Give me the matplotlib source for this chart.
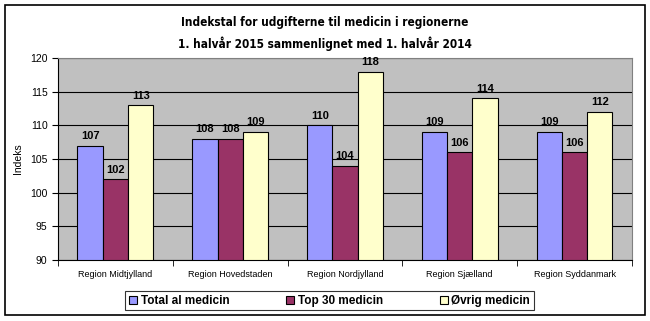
import numpy as np
import matplotlib.pyplot as plt
from matplotlib.patches import Rectangle

regions = ["Region Midtjylland", "Region Hovedstaden", "Region Nordjylland",
           "Region Sjælland", "Region Syddanmark"]
total = [107, 108, 110, 109, 109]
top30 = [102, 108, 104, 106, 106]
oevrig = [113, 109, 118, 114, 112]
series_names = ["Total al medicin", "Top 30 medicin", "Øvrig medicin"]
colors = ["#9999FF", "#993366", "#FFFFCC"]

plt.rcParams['font.family'] = ['Liberation Sans', 'DejaVu Sans']

fig = plt.figure(figsize=(6.5, 3.21), dpi=100)
fig.patches.append(Rectangle((0.008, 0.02), 0.984, 0.965, transform=fig.transFigure,
                             fill=False, edgecolor='black', linewidth=1.2))
ax = fig.add_axes([0.0892, 0.19, 0.883, 0.629])
ax.set_facecolor("#C0C0C0")

x = np.arange(len(regions))
w = 0.22
for i, (vals, name, c) in enumerate(zip([total, top30, oevrig], series_names, colors)):
    ax.bar(x + (i - 1) * w, np.array(vals) - 90, w, bottom=90, color=c,
           edgecolor='black', linewidth=0.8, label=name, zorder=3)
    for xi, v in zip(x + (i - 1) * w, vals):
        ax.text(xi, v + 0.7, str(v), ha='center', va='bottom', fontsize=8,
                fontweight='bold', zorder=4)

ax.set_ylim(90, 120)
ax.set_xlim(-0.5, len(regions) - 0.5)
ax.set_yticks(range(90, 121, 5))
ax.tick_params(axis='y', labelsize=7.5, length=4, direction='out')
ax.yaxis.grid(True, color='black', linewidth=0.8, zorder=1)
ax.set_xticks(x)
ax.set_xticklabels(regions, fontsize=6.5)
ax.tick_params(axis='x', length=0, pad=7)
ax.set_xticks(np.arange(-0.5, len(regions), 1), minor=True)
ax.tick_params(axis='x', which='minor', length=4, direction='out')
for s in ['top', 'right']:
    ax.spines[s].set_color('#808080')
ax.set_ylabel("Indeks", fontsize=7.5, labelpad=5)

fig.suptitle("Indekstal for udgifterne til medicin i regionerne\n"
             "1. halvår 2015 sammenlignet med 1. halvår 2014",
             y=0.95, fontsize=8.5, fontweight='bold', family='DejaVu Sans',
             fontstretch='condensed', linespacing=1.6)

leg = fig.legend(loc='center', bbox_to_anchor=(0.507, 0.063), ncol=3,
                 prop={'weight': 'bold', 'size': 8.5}, frameon=True, fancybox=False,
                 edgecolor='black', handlelength=0.7, handleheight=0.7,
                 columnspacing=4.8, borderpad=0.3, handletextpad=0.3)
leg.get_frame().set_linewidth(0.8)

fig.savefig("out.png", dpi=100)
